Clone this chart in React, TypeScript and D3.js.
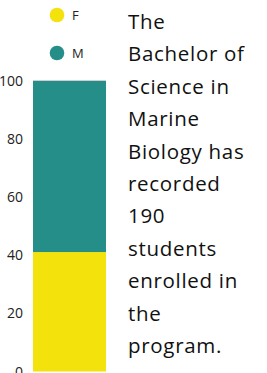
import React from 'react';
import * as d3 from 'd3';

// enrolment split by gender (students)
const categories = ['F', 'M'];
const counts = [78, 112];
const colors = ['#f4e20c', '#258e89'];
const yTicks = [0, 20, 40, 60, 80, 100];
const noteLines = [
  'The',
  'Bachelor of',
  'Science in',
  'Marine',
  'Biology has',
  'recorded',
  '190',
  'students',
  'enrolled in',
  'the',
  'program.',
];

const W = 267;
const H = 373;

const App = () => {
  const total = d3.sum(counts);
  const pct = counts.map((c) => (c / total) * 100);

  const y = d3.scaleLinear().domain([0, 100]).range([371.5, 80.5]);
  const x = d3.scaleBand().domain(['all']).range([33, 106]).padding(0);

  // stack F at the bottom, M on top
  let acc = 0;
  const segs = pct.map((v, i) => {
    const s = { key: categories[i], y0: acc, y1: acc + v, color: colors[i] };
    acc += v;
    return s;
  });

  const legendY = d3.scalePoint().domain(categories).range([15, 53]);

  return (
    <svg
      width={W}
      height={H}
      style={{ position: 'absolute', left: 0, top: 0, background: '#fff' }}
      fontFamily="'Open Sans', sans-serif"
    >
      {/* legend */}
      {categories.map((c, i) => (
        <g key={c} transform={`translate(57,${legendY(c)})`}>
          <circle r={7.3} fill={colors[i]} />
          <text x={15} dy="0.36em" fontSize={13} fill="#222">
            {c}
          </text>
        </g>
      ))}

      {/* y axis labels */}
      {yTicks.map((t) => (
        <text
          key={t}
          x={23}
          y={y(t)}
          dy="0.36em"
          textAnchor="end"
          fontSize={14}
          fill="#222"
        >
          {t}
        </text>
      ))}

      {/* stacked bar */}
      {segs.map((s) => (
        <rect
          key={s.key}
          x={x('all')}
          width={x.bandwidth()}
          y={y(s.y1)}
          height={y(s.y0) - y(s.y1)}
          fill={s.color}
        />
      ))}
      <line
        x1={x('all')}
        x2={(x('all') as number) + x.bandwidth()}
        y1={y(100)}
        y2={y(100)}
        stroke="#cfcfcf"
        strokeWidth={1}
      />

      {/* description */}
      <text fontSize={20.5} fill="#111" letterSpacing={0.7}>
        {noteLines.map((l, i) => (
          <tspan key={i} x={128} y={29 + i * 32.4}>
            {l}
          </tspan>
        ))}
      </text>
    </svg>
  );
};

export default App;
